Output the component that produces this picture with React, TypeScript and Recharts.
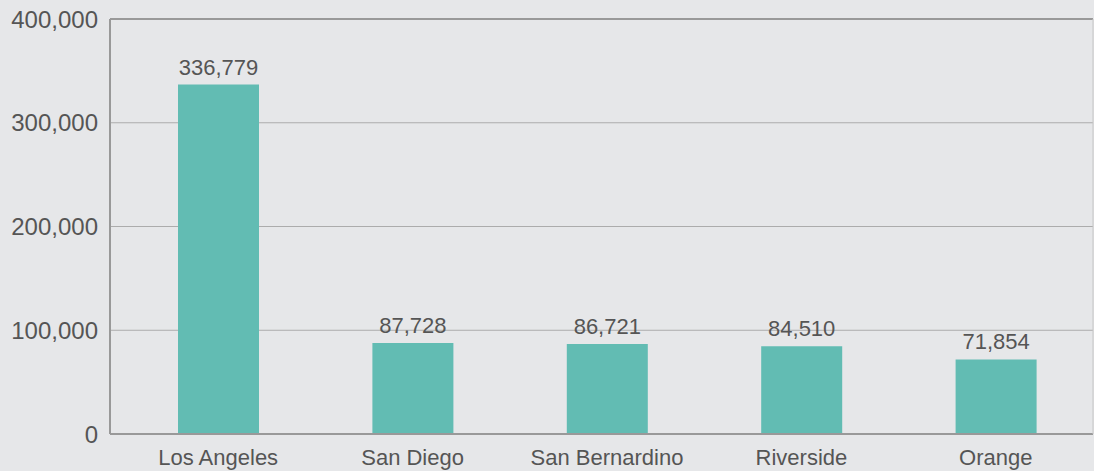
import React from 'react';
import { BarChart, Bar, XAxis, YAxis, CartesianGrid, LabelList, ReferenceLine } from 'recharts';

const counties = ['Los Angeles', 'San Diego', 'San Bernardino', 'Riverside', 'Orange'];
const counts = [336779, 87728, 86721, 84510, 71854];
const yTicks = [0, 100000, 200000, 300000, 400000];

const data = counties.map((county, i) => ({ county, count: counts[i] }));

const FONT = '"Liberation Sans", Arial, sans-serif';
const TEXT = '#555555';

const fmt = (v: number) => v.toLocaleString('en-US');

const App: React.FC = () => {
  return (
    <div style={{ position: 'absolute', top: 0, left: 0, width: 1094, height: 471, background: '#e6e7e9', fontFamily: FONT }}>
      <BarChart width={1094} height={471} data={data} margin={{ top: 19, right: 0, bottom: 0, left: 0 }}>
        <CartesianGrid vertical={false} stroke="#acacac" strokeWidth={1} />
        <XAxis
          dataKey="county"
          height={37}
          tickLine={false}
          axisLine={{ stroke: '#999999', strokeWidth: 2 }}
          padding={{ left: 11, right: 0 }}
          tick={{ fill: TEXT, fontSize: 22, fontFamily: FONT, dy: 7 }}
          interval={0}
        />
        <YAxis
          width={110}
          domain={[0, 400000]}
          ticks={yTicks}
          tickFormatter={fmt}
          tickLine={false}
          axisLine={{ stroke: '#999999', strokeWidth: 2 }}
          tick={{ fill: TEXT, fontSize: 24, fontFamily: FONT }}
          tickMargin={6}
        />
        <YAxis
          yAxisId="right"
          orientation="right"
          width={1}
          domain={[0, 400000]}
          tick={false}
          tickLine={false}
          axisLine={{ stroke: '#c6c6c6', strokeWidth: 1 }}
        />
        <ReferenceLine y={400000} stroke="#999999" strokeWidth={2} />
        <Bar dataKey="count" fill="#62bcb3" barSize={81} isAnimationActive={false}>
          <LabelList dataKey="count" position="top" offset={10} formatter={(v: any) => fmt(Number(v))} fill={TEXT} fontSize={22} fontFamily={FONT} />
        </Bar>
      </BarChart>
    </div>
  );
};

export default App;
